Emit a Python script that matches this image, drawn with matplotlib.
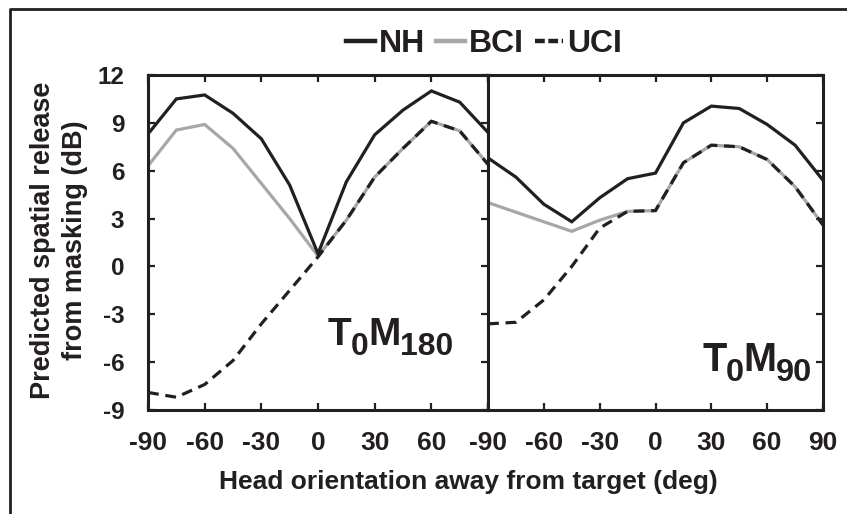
import matplotlib

matplotlib.use("Agg")
import matplotlib.pyplot as plt
from matplotlib.lines import Line2D

plt.rcParams["font.family"] = ["Liberation Sans", "DejaVu Sans"]
plt.rcParams["font.weight"] = "bold"
plt.rcParams["axes.unicode_minus"] = False

# head orientation (deg)
angles = [-90, -75, -60, -45, -30, -15, 0, 15, 30, 45, 60, 75, 90]

# T0M180 panel
nh_180 = [8.3, 10.5, 10.75, 9.6, 8.0, 5.1, 0.8, 5.3, 8.25, 9.8, 11.0, 10.3, 8.4]
bci_180 = [6.3, 8.55, 8.9, 7.4, 5.2, 3.0, 0.65, 2.9, 5.6, 7.4, 9.1, 8.5, 6.4]
uci_180 = [-7.9, -8.2, -7.4, -5.9, -3.6, -1.5, 0.6, 2.9, 5.6, 7.4, 9.1, 8.5, 6.4]

# T0M90 panel
nh_90 = [6.8, 5.6, 3.9, 2.8, 4.3, 5.5, 5.85, 9.0, 10.05, 9.9, 8.9, 7.6, 5.4]
bci_90 = [4.0, 3.4, 2.8, 2.2, 2.9, 3.45, 3.5, 6.5, 7.6, 7.5, 6.7, 5.0, 2.6]
uci_90 = [-3.6, -3.5, -2.1, 0.0, 2.4, 3.45, 3.5, 6.5, 7.6, 7.5, 6.7, 5.0, 2.6]

xticks = [-90, -60, -30, 0, 30, 60, 90]
yticks = [-9, -6, -3, 0, 3, 6, 9, 12]

ink = "#231f20"
grey = "#a7a7a7"
lw = 2.3
dash = (0, (3.4, 2.1))
W, H = 847, 514

fig = plt.figure(figsize=(8.47, 5.14), dpi=100)
ax1 = fig.add_axes([148 / W, 1 - 410 / H, 340 / W, 335 / H])
ax2 = fig.add_axes([488 / W, 1 - 410 / H, 335 / W, 335 / H])
renderer = fig.canvas.get_renderer()


def condition_label(x, y, pieces, size):
    # pieces: (text, is_subscript); placed left to right in pixel coords
    for txt, sub in pieces:
        fs = size * 0.82 if sub else size
        yy = y + (10 if sub else 0)
        t = fig.text(x / W, 1 - yy / H, txt, fontsize=fs, color=ink,
                     family=["Liberation Sans Narrow", "Liberation Sans"],
                     ha="left", va="baseline")
        x = t.get_window_extent(renderer).x1 - 0.5


panels = [
    (ax1, nh_180, bci_180, uci_180, "180", (328, 345), 28),
    (ax2, nh_90, bci_90, uci_90, "90", (702, 371), 28.5),
]

for ax, nh, bci, uci, angle, (tx, ty), size in panels:
    ax.plot(angles, bci, color=grey, lw=lw, solid_joinstyle="miter")
    ax.plot(angles, uci, color=ink, lw=lw, linestyle=dash)
    ax.plot(angles, nh, color=ink, lw=lw, solid_joinstyle="miter")
    ax.set_xlim(-90, 90)
    ax.set_ylim(-9, 12)
    ax.set_xticks(xticks)
    ax.set_yticks(yticks)
    for s in ax.spines.values():
        s.set_linewidth(2.2)
        s.set_color(ink)
    ax.tick_params(direction="in", length=5, width=1.6, color=ink,
                   top=True, right=True, labelcolor=ink)
    ax.tick_params(axis="x", labelsize=19, pad=15)
    ax.tick_params(axis="y", labelsize=17.5, pad=17)
    condition_label(tx, ty, [("T", False), ("0", True), ("M", False), (angle, True)], size)

ax1.set_xticklabels(["-90", "-60", "-30", "0", "30", "60", ""])
ax2.tick_params(axis="y", left=False, labelleft=False)

fig.text(59 / W, 1 - 240 / H, "Predicted spatial release\nfrom masking (dB)",
         rotation=90, ha="center", va="center", fontsize=19.5, color=ink,
         linespacing=1.3)
fig.text(468 / W, 1 - 482 / H, "Head orientation away from target (deg)",
         ha="center", va="center", fontsize=19, color=ink)

handles = [
    Line2D([], [], color=ink, lw=3.2),
    Line2D([], [], color=grey, lw=3.2),
    Line2D([], [], color=ink, lw=3.2, linestyle=(0, (2.2, 0.8, 2.2, 0.8, 0.6, 0.8))),
]
fig.legend(handles, ["NH", "BCI", "UCI"], loc="center",
           bbox_to_anchor=(484 / W, 1 - 44 / H), ncol=3, frameon=False,
           fontsize=23, handlelength=0.9, handletextpad=0.12,
           columnspacing=0.35, labelcolor=ink)

# outer frame (top and left edges only)
fig.add_artist(Line2D([10 / W, 10 / W, 1.0], [0.0, 1 - 9 / H, 1 - 9 / H],
                      transform=fig.transFigure, color=ink, lw=2.0))

fig.savefig("out.png", dpi=100)
